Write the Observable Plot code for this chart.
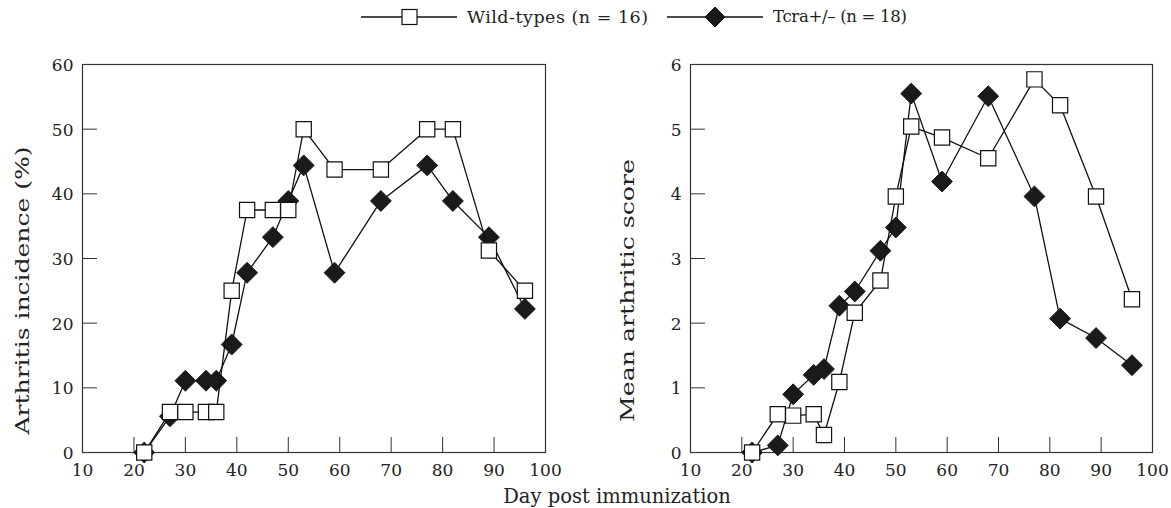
<!DOCTYPE html>
<html>
<head>
<meta charset="utf-8">
<script src="https://cdn.jsdelivr.net/npm/d3@7"></script>
<script src="https://cdn.jsdelivr.net/npm/@observablehq/plot@0.6"></script>
<style>
  html, body { margin: 0; padding: 0; background: white; }
  #wrap { position: relative; width: 1171px; height: 508px; overflow: hidden; background: white;
          font-family: "DejaVu Serif", serif; color: #222; }
  .abs { position: absolute; }
  .ltxt { position: absolute; font-size: 17.5px; line-height: 24px; white-space: nowrap; }
  #xtitle { position: absolute; top: 486px; left: 617px; transform: translateX(-50%);
            font-size: 19.5px; line-height: 22px; white-space: nowrap; }
</style>
</head>
<body>
<div id="wrap">
  <svg class="abs" style="left:361px;top:5px" width="96" height="24">
    <line x1="0" x2="96" y1="12" y2="12" stroke="#111" stroke-width="1.3"/>
    <rect x="41" y="4.5" width="15" height="15" fill="white" stroke="#111" stroke-width="1.2"/>
  </svg>
  <div class="ltxt" style="left:467px;top:5px;letter-spacing:0.5px">Wild-types (n = 16)</div>
  <svg class="abs" style="left:667px;top:5px" width="96" height="24">
    <line x1="0" x2="96" y1="12" y2="12" stroke="#111" stroke-width="1.3"/>
    <path d="M48,2 L58,12 L48,22 L38,12 Z" fill="#1a1a1a" stroke="#1a1a1a"/>
  </svg>
  <div class="ltxt" style="left:773px;top:5px;font-size:16.5px;letter-spacing:-0.3px">Tcra+/– (n = 18)</div>
  <div id="left" class="abs" style="left:0px;top:34px"></div>
  <div id="right" class="abs" style="left:585px;top:34px"></div>
  <div id="xtitle">Day post immunization</div>
</div>
<script>
// ---- data ----
const days = [22, 27, 30, 34, 36, 39, 42, 47, 50, 53, 59, 68, 77, 82, 89, 96];
const wildIncidence = [0, 6.25, 6.25, 6.25, 6.25, 25, 37.5, 37.5, 37.5, 50, 43.75, 43.75, 50, 50, 31.25, 25];
const tcraIncidence = [0, 5.6, 11.1, 11.1, 11.1, 16.7, 27.8, 33.3, 38.9, 44.4, 27.8, 38.9, 44.4, 38.9, 33.3, 22.2];
const wildScore = [0, 0.59, 0.57, 0.59, 0.27, 1.09, 2.16, 2.66, 3.96, 5.04, 4.87, 4.55, 5.77, 5.37, 3.96, 2.37];
const tcraScore = [0, 0.11, 0.90, 1.20, 1.29, 2.27, 2.49, 3.12, 3.48, 5.55, 4.19, 5.51, 3.96, 2.07, 1.77, 1.35];
const xTicks = [10, 20, 30, 40, 50, 60, 70, 80, 90, 100];
const yTicksLeft = [0, 10, 20, 30, 40, 50, 60];
const yTicksRight = [0, 1, 2, 3, 4, 5, 6];
const yTitleLeft = "Arthritis incidence (%)";
const yTitleRight = "Mean arthritic score";

function panel({wild, tcra, yDomain, yTicks, yTitle, width, marginLeft, marginRight, titleDx, titleLength}) {
  const W = days.map((d, i) => ({day: d, v: wild[i]}));
  const T = days.map((d, i) => ({day: d, v: tcra[i]}));
  const svg = Plot.plot({
    width, height: 446,
    marginLeft, marginRight, marginTop: 30, marginBottom: 28,
    style: {fontFamily: "DejaVu Serif", fontSize: "17px", color: "#222", background: "transparent", overflow: "visible"},
    x: {domain: [10, 100]},
    y: {domain: yDomain},
    marks: [
      Plot.frame({stroke: "#333", strokeWidth: 1.2}),
      Plot.axisX(xTicks, {tickSize: -15, fill: "none", stroke: "#333", label: null}),
      Plot.axisX(xTicks, {tickSize: 0, tickPadding: 11, tickFormat: "d", stroke: "none", fill: "#222", label: null}),
      Plot.axisY(yTicks, {tickSize: -15, fill: "none", stroke: "#333", label: null}),
      Plot.axisY(yTicks, {tickSize: 0, tickPadding: 9, tickFormat: "d", dy: 1, stroke: "none", fill: "#222", label: null}),
      Plot.text([yTitle], {text: d => d, frameAnchor: "left", textAnchor: "middle", dx: titleDx, dy: 32, rotate: -90, fontSize: 18, fill: "#222"}),
      Plot.line(T, {x: "day", y: "v", stroke: "#111", strokeWidth: 1.3}),
      Plot.dot(T, {x: "day", y: "v", symbol: "diamond2", r: 9.4, fill: "#1a1a1a", stroke: "#1a1a1a", strokeWidth: 1}),
      Plot.line(W, {x: "day", y: "v", stroke: "#111", strokeWidth: 1.3}),
      Plot.dot(W, {x: "day", y: "v", symbol: "square", r: 8.6, fill: "white", stroke: "#111", strokeWidth: 1.2})
    ]
  });
  // the reference's rotated titles are stretched along their length
  d3.select(svg).selectAll("text").filter(function() { return this.textContent === yTitle; })
    .attr("textLength", titleLength).attr("lengthAdjust", "spacingAndGlyphs");
  return svg;
}

document.getElementById("left").append(panel({
  wild: wildIncidence, tcra: tcraIncidence, yDomain: [0, 60], yTicks: yTicksLeft,
  yTitle: yTitleLeft, width: 585, marginLeft: 82, marginRight: 40, titleDx: -59, titleLength: 288
}));
document.getElementById("right").append(panel({
  wild: wildScore, tcra: tcraScore, yDomain: [0, 6], yTicks: yTicksRight,
  yTitle: yTitleRight, width: 586, marginLeft: 105, marginRight: 19, titleDx: -62, titleLength: 263
}));
</script>
</body>
</html>
